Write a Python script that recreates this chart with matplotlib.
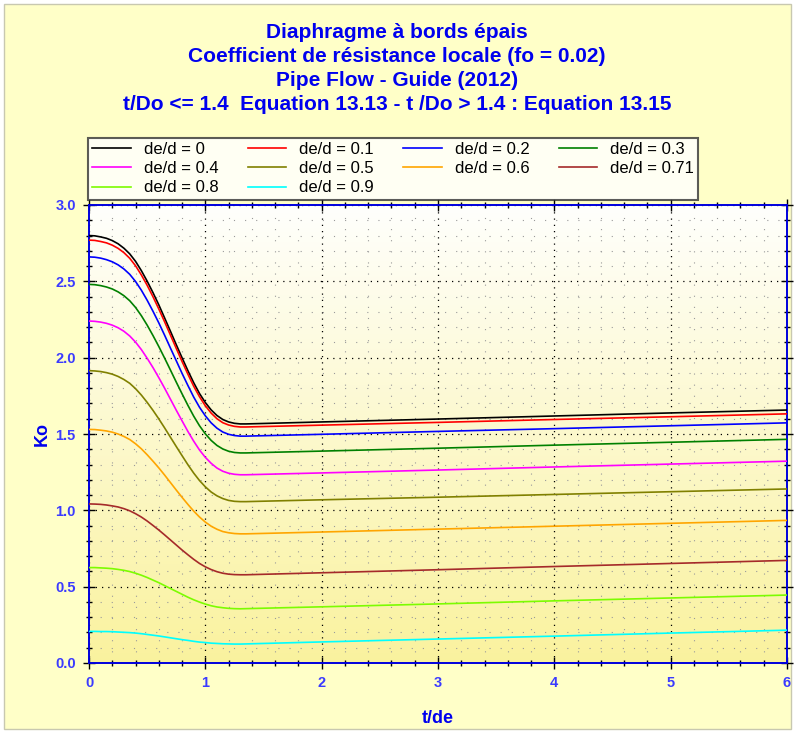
"""
Diaphragme a bords epais - Ko vs t/de for several de/d ratios
"""

import numpy as np
import matplotlib.pyplot as plt
from matplotlib.patches import Rectangle
from matplotlib.ticker import MultipleLocator

# --------------------------
# DATA
# --------------------------
t_de = [0, 0.05, 0.1, 0.15, 0.2, 0.25, 0.3, 0.35, 0.4, 0.45, 0.5, 0.55, 0.6, 0.65, 0.7,
        0.75, 0.8, 0.85, 0.9, 0.95, 1.0, 1.05, 1.1, 1.15, 1.2, 1.25, 1.3, 1.35, 1.4,
        2, 3, 4, 5, 6]

ko_00 = [2.800, 2.798, 2.791, 2.782, 2.767, 2.746, 2.717, 2.680, 2.631, 2.570, 2.501, 2.426, 2.346, 2.260,
         2.173, 2.085, 1.999, 1.915, 1.836, 1.765, 1.706, 1.658, 1.621, 1.595, 1.579, 1.570, 1.566, 1.566,
         1.567, 1.579, 1.598, 1.618, 1.638, 1.657]
ko_01 = [2.770, 2.768, 2.761, 2.752, 2.737, 2.716, 2.688, 2.651, 2.602, 2.542, 2.474, 2.399, 2.319, 2.235,
         2.148, 2.061, 1.975, 1.892, 1.813, 1.744, 1.685, 1.637, 1.600, 1.574, 1.559, 1.550, 1.546, 1.546,
         1.547, 1.558, 1.576, 1.595, 1.613, 1.632]
ko_02 = [2.660, 2.658, 2.652, 2.642, 2.628, 2.608, 2.581, 2.546, 2.499, 2.442, 2.376, 2.304, 2.228, 2.147,
         2.063, 1.980, 1.897, 1.818, 1.742, 1.675, 1.619, 1.573, 1.538, 1.513, 1.498, 1.490, 1.486, 1.486,
         1.487, 1.498, 1.517, 1.535, 1.554, 1.573]
ko_03 = [2.480, 2.478, 2.472, 2.463, 2.450, 2.431, 2.406, 2.373, 2.329, 2.275, 2.213, 2.145, 2.073, 1.997,
         1.919, 1.840, 1.763, 1.688, 1.617, 1.554, 1.501, 1.458, 1.425, 1.402, 1.387, 1.379, 1.376, 1.376,
         1.377, 1.388, 1.407, 1.427, 1.446, 1.465]
ko_04 = [2.240, 2.238, 2.233, 2.225, 2.213, 2.196, 2.173, 2.142, 2.102, 2.053, 1.996, 1.935, 1.869, 1.800,
         1.728, 1.656, 1.586, 1.517, 1.453, 1.395, 1.347, 1.308, 1.277, 1.256, 1.243, 1.236, 1.233, 1.233,
         1.234, 1.245, 1.264, 1.284, 1.303, 1.322]
ko_05 = [1.915, 1.913, 1.909, 1.902, 1.892, 1.877, 1.857, 1.832, 1.797, 1.755, 1.707, 1.655, 1.599, 1.540,
         1.479, 1.418, 1.358, 1.299, 1.244, 1.195, 1.154, 1.120, 1.095, 1.077, 1.065, 1.059, 1.057, 1.057,
         1.058, 1.069, 1.086, 1.104, 1.122, 1.140]
ko_06 = [1.530, 1.529, 1.525, 1.520, 1.512, 1.500, 1.484, 1.464, 1.436, 1.403, 1.364, 1.322, 1.278, 1.231,
         1.182, 1.133, 1.085, 1.039, 0.995, 0.956, 0.923, 0.896, 0.876, 0.861, 0.853, 0.848, 0.846, 0.846,
         0.847, 0.858, 0.877, 0.896, 0.915, 0.934]
ko_071 = [1.042, 1.041, 1.039, 1.035, 1.029, 1.022, 1.011, 0.997, 0.978, 0.956, 0.930, 0.901, 0.871, 0.839,
          0.806, 0.773, 0.740, 0.709, 0.679, 0.652, 0.630, 0.612, 0.598, 0.588, 0.582, 0.579, 0.578, 0.578,
          0.579, 0.591, 0.611, 0.632, 0.652, 0.672]
ko_08 = [0.625, 0.625, 0.623, 0.621, 0.618, 0.613, 0.607, 0.599, 0.588, 0.575, 0.560, 0.543, 0.526, 0.507,
         0.488, 0.469, 0.450, 0.431, 0.414, 0.399, 0.386, 0.375, 0.367, 0.362, 0.358, 0.356, 0.355, 0.356,
         0.357, 0.368, 0.387, 0.407, 0.426, 0.445]
ko_09 = [0.207, 0.207, 0.206, 0.206, 0.205, 0.203, 0.201, 0.199, 0.196, 0.192, 0.187, 0.182, 0.177, 0.171,
         0.165, 0.159, 0.153, 0.148, 0.142, 0.137, 0.134, 0.130, 0.128, 0.126, 0.125, 0.124, 0.124, 0.125,
         0.126, 0.138, 0.157, 0.176, 0.196, 0.215]

labels = ["de/d = 0", "de/d = 0.1", "de/d = 0.2", "de/d = 0.3", "de/d = 0.4",
          "de/d = 0.5", "de/d = 0.6", "de/d = 0.71", "de/d = 0.8", "de/d = 0.9"]
series = [ko_00, ko_01, ko_02, ko_03, ko_04, ko_05, ko_06, ko_071, ko_08, ko_09]
colors = ["black", "red", "blue", "green", "magenta", "olive", "orange", "brown", "lawngreen", "cyan"]

title_lines = ["Diaphragme à bords épais",
               "Coefficient de résistance locale (fo = 0.02)",
               "Pipe Flow - Guide (2012)",
               "t/Do <= 1.4  Equation 13.13 - t /Do > 1.4 : Equation 13.15"]

BLUE = "#0000ee"
TICK_BLUE = "#3b3bff"

plt.rcParams["font.family"] = ["Liberation Sans", "DejaVu Sans"]

# --------------------------
# FIGURE
# --------------------------
fig = plt.figure(figsize=(7.95, 7.33), dpi=100, facecolor="white")
W, H = 795, 733
fig.patches.append(Rectangle((4 / W, 4 / H), 787 / W, 725 / H, transform=fig.transFigure,
                             facecolor="#ffffc8", edgecolor="#c8c8b0", lw=1, zorder=-10))

for i, line in enumerate(title_lines):
    fig.text(397 / W, 1 - (32 + i * 24) / H, line, ha="center", va="center",
             fontsize=15, fontweight="bold", color=BLUE)

ax = fig.add_axes([89 / W, 70 / H, 698 / W, 458 / H])

# gradient background white -> yellow
grad = np.linspace(0, 1, 256).reshape(-1, 1)
top = np.array([1.0, 1.0, 0.99])
bot = np.array([0.98, 0.95, 0.62])
img = top[None, None, :] * (1 - grad[..., None]) + bot[None, None, :] * grad[..., None]
ax.imshow(img, extent=[0, 1, 0, 1], transform=ax.transAxes, aspect="auto", zorder=0)

handles = []
for y, c, lab in zip(series, colors, labels):
    h, = ax.plot(t_de, y, color=c, lw=1.2, label=lab, zorder=3)
    handles.append(h)

ax.set_xlim(0, 6)
ax.set_ylim(0, 3.0)
ax.xaxis.set_major_locator(MultipleLocator(1))
ax.xaxis.set_minor_locator(MultipleLocator(0.2))
ax.yaxis.set_major_locator(MultipleLocator(0.5))
ax.yaxis.set_minor_locator(MultipleLocator(0.1))
ax.yaxis.set_major_formatter(plt.FormatStrFormatter("%.1f"))

ax.grid(which="major", color="black", linestyle=(0, (1, 4)), lw=0.9, zorder=1)
ax.grid(which="minor", color="#9a9a9a", linestyle=(0, (1, 9)), lw=0.8, zorder=1)

ax.tick_params(which="both", direction="inout", color="black", top=True, right=True,
               labelcolor=TICK_BLUE, labelsize=10.5, width=1)
ax.tick_params(which="major", length=9, pad=5)
ax.tick_params(which="minor", length=5)
for lab in ax.get_xticklabels() + ax.get_yticklabels():
    lab.set_fontweight("bold")

for sp in ax.spines.values():
    sp.set_color("#0000dd")
    sp.set_linewidth(1.4)

ax.set_xlabel("t/de", fontsize=13, fontweight="bold", color=BLUE)
ax.set_ylabel("Ko", fontsize=13, fontweight="bold", color=BLUE)
ax.xaxis.set_label_coords(0.5, -47 / 458)
ax.yaxis.set_label_coords(-38 / 698, 0.5)

# legend filled row by row (4 columns)
order = [0, 4, 8, 1, 5, 9, 2, 6, 3, 7]
leg = fig.legend([handles[i] for i in order], [labels[i] for i in order],
                 loc="upper left", bbox_to_anchor=(88 / W, 1 - 138 / H),
                 ncol=4, fontsize=12, frameon=True, fancybox=False,
                 edgecolor="#333333", handlelength=2.3, handletextpad=0.8,
                 columnspacing=1.75, borderaxespad=0, labelspacing=0.25, borderpad=0.25)
leg.get_frame().set_linewidth(1.5)

fig.savefig("out.png", dpi=100, facecolor=fig.get_facecolor())
